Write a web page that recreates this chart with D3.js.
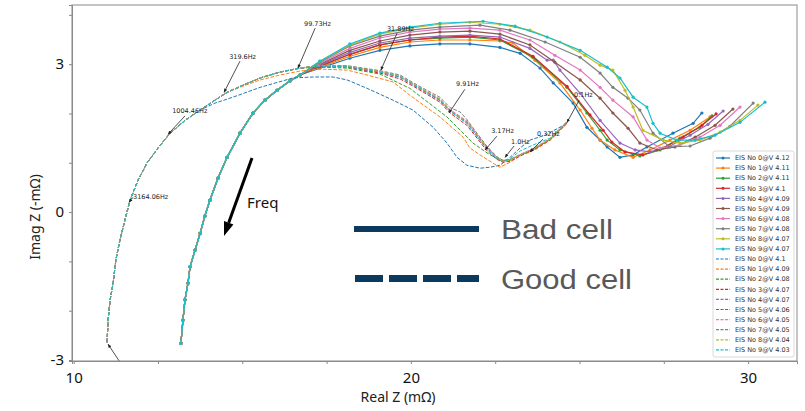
<!DOCTYPE html>
<html>
<head>
<meta charset="utf-8">
<script src="https://cdnjs.cloudflare.com/ajax/libs/d3/7.8.5/d3.min.js"></script>
<style>
body { margin: 0; background: #fff; }
#graphicContainer { width: 805px; height: 411px; }
</style>
</head>
<body>
<div id="graphicContainer"></div>
<script>

// axis setup

var x_domain = [9.95, 31.45];
var y_domain = [-3.02, 4.2];
var x_ticks = [10, 12.5, 15, 17.5, 20, 22.5, 25, 27.5, 30];
var x_labels = [10, 20, 30];
var y_ticks = [-3, -2, -1, 0, 1, 2, 3, 4];
var y_labels = [-3, 0, 3];

var colour_choices = ["#1f77b4", "#ff7f0e", "#2ca02c", "#d62728", "#9467bd",
	"#8c564b", "#e377c2", "#7f7f7f", "#bcbd22", "#17becf"];

var bad_labels = ["EIS No 0@V 4.12", "EIS No 1@V 4.11", "EIS No 2@V 4.11", "EIS No 3@V 4.1", "EIS No 4@V 4.09",
	"EIS No 5@V 4.09", "EIS No 6@V 4.08", "EIS No 7@V 4.08", "EIS No 8@V 4.07", "EIS No 9@V 4.07"];
var good_labels = ["EIS No 0@V 4.1", "EIS No 1@V 4.09", "EIS No 2@V 4.08", "EIS No 3@V 4.07", "EIS No 4@V 4.07",
	"EIS No 5@V 4.06", "EIS No 6@V 4.05", "EIS No 7@V 4.05", "EIS No 8@V 4.04", "EIS No 9@V 4.03"];

// bad cells - the high frequency part is the same for all of them

var bad_rise = [[13.18,-2.66],[13.24,-2.19],[13.30,-1.78],[13.39,-1.44],[13.45,-1.11],[13.60,-0.77],[13.75,-0.43],
	[13.89,-0.08],[14.04,0.24],[14.28,0.69],[14.55,1.11],[14.93,1.60],[15.32,2.01],[15.67,2.27],[16.03,2.47],[16.41,2.66],[16.71,2.78]];

var bad_0 = [[17.30,2.92],[18.19,3.12],[19.08,3.28],[19.97,3.37],[20.86,3.41],[21.75,3.41],[22.64,3.34],[23.24,3.22],[23.83,2.92],
	[24.22,2.62],[24.81,2.21],[25.22,1.72],[25.61,1.46],[25.82,1.32],[26.20,1.11],[26.59,1.16],[27.00,1.32],[27.77,1.60],[28.37,1.80],[28.63,2.01]];
var bad_1 = [[17.30,2.94],[18.19,3.16],[19.08,3.34],[19.97,3.45],[20.86,3.49],[21.75,3.49],[22.64,3.47],[23.03,3.43],[23.68,3.08],
	[24.42,2.62],[25.02,2.07],[25.37,1.70],[25.61,1.46],[26.05,1.26],[26.59,1.11],[27.09,1.26],[27.68,1.46],[28.28,1.66],[28.87,1.93]];
var bad_2 = [[17.30,2.96],[18.19,3.20],[19.08,3.39],[19.97,3.49],[20.86,3.53],[21.75,3.55],[22.64,3.49],[23.62,3.14],[24.63,2.53],
	[25.22,2.01],[25.61,1.66],[25.82,1.46],[26.20,1.26],[26.79,1.14],[27.39,1.26],[27.98,1.50],[28.57,1.72],[28.93,1.95]];
var bad_3 = [[17.30,2.96],[18.19,3.20],[19.08,3.39],[19.97,3.49],[20.86,3.55],[21.75,3.57],[22.64,3.51],[23.62,3.16],[24.63,2.55],
	[25.31,1.97],[25.70,1.66],[25.96,1.42],[26.35,1.22],[26.88,1.16],[27.48,1.30],[28.07,1.52],[28.63,1.76],[29.05,1.99]];
var bad_4 = [[17.30,2.98],[18.19,3.24],[19.08,3.43],[19.97,3.53],[20.86,3.57],[21.75,3.59],[22.64,3.55],[23.53,3.32],[24.04,3.08],
	[24.22,3.08],[24.42,2.88],[25.02,2.41],[25.61,1.86],[26.20,1.40],[26.65,1.26],[27.09,1.22],[27.63,1.32],[28.28,1.56],[28.81,1.78],[29.26,2.05]];
var bad_5 = [[17.30,3.00],[18.19,3.28],[19.08,3.47],[19.97,3.59],[20.86,3.65],[21.75,3.67],[22.64,3.61],[23.53,3.39],[24.27,3.04],
	[25.02,2.68],[25.61,2.31],[25.99,2.01],[26.44,1.70],[26.79,1.40],[27.30,1.26],[27.83,1.32],[28.43,1.52],[29.02,1.76],[29.55,2.09]];
var bad_6 = [[17.30,3.02],[18.19,3.32],[19.08,3.53],[19.97,3.65],[20.86,3.71],[21.75,3.73],[22.64,3.69],[23.53,3.49],[24.27,3.18],
	[25.02,2.88],[25.61,2.53],[25.99,2.27],[26.59,1.93],[27.00,1.46],[27.39,1.30],[27.98,1.36],[28.57,1.52],[29.17,1.76],[29.76,2.13]];
var bad_7 = [[17.30,3.04],[18.19,3.37],[19.08,3.57],[19.97,3.69],[20.86,3.75],[22.05,3.79],[22.94,3.69],[23.98,3.45],[25.02,3.14],
	[25.61,2.82],[25.99,2.53],[26.44,2.31],[26.79,2.07],[27.18,1.60],[27.68,1.32],[28.28,1.34],[28.87,1.50],[29.46,1.74],[30.15,2.21]];
var bad_8 = [[17.30,3.06],[18.19,3.39],[19.08,3.61],[19.97,3.73],[20.86,3.81],[21.75,3.85],[22.64,3.81],[23.53,3.69],[24.42,3.45],
	[25.16,3.18],[25.61,2.98],[25.99,2.88],[26.35,2.47],[26.59,2.13],[26.88,1.66],[27.48,1.46],[27.98,1.40],[28.57,1.46],[29.17,1.62],[29.76,1.86],[30.29,2.17]];
var bad_9 = [[17.30,3.06],[18.19,3.41],[19.08,3.63],[19.97,3.75],[20.86,3.83],[22.14,3.87],[23.09,3.77],[24.04,3.55],[25.02,3.28],
	[25.82,2.94],[26.20,2.72],[26.59,2.33],[27.00,2.13],[27.18,1.80],[27.39,1.60],[27.89,1.46],[28.43,1.46],[29.02,1.56],[29.76,1.82],[30.50,2.23]];

// good cells

var good_rise = [[10.99,-2.64],[11.02,-2.19],[11.08,-1.78],[11.17,-1.44],[11.25,-0.97],[11.37,-0.57],[11.52,-0.16],[11.67,0.24],
	[11.91,0.65],[12.17,0.99],[12.50,1.30],[12.86,1.60],[13.30,1.86],[13.75,2.07]];
var good_mid = [[14.19,2.27],[14.55,2.43],[15.08,2.59],[15.53,2.72],[16.12,2.84],[16.71,2.92]];

var good_0 = [[14.19,2.21],[14.72,2.33],[15.53,2.53],[16.50,2.72],[17.10,2.74],[17.69,2.74],[18.11,2.68],[18.70,2.51],[19.47,2.27],
	[20.06,2.07],[20.66,1.72],[21.07,1.40],[21.37,1.11],[21.66,0.95],[22.05,0.89],[22.35,0.91],[22.64,0.95],[22.94,1.11],[23.24,1.30],
	[23.53,1.46],[23.98,1.56],[24.63,1.80]];
var good_1 = [[14.19,2.27],[14.55,2.43],[15.08,2.57],[15.53,2.68],[16.12,2.78],[16.71,2.86],[17.30,2.90],[18.11,2.88],[18.70,2.78],
	[19.47,2.64],[19.97,2.37],[20.86,1.93],[21.55,1.52],[21.75,1.30],[22.05,1.16],[22.44,0.99],[22.64,0.91],[22.94,1.01],[23.24,1.14],
	[23.68,1.26],[24.13,1.46],[24.63,1.80]];
var good_2 = [[17.30,2.94],[18.11,2.92],[19.08,2.80],[19.97,2.51],[21.07,1.93],[21.84,1.40],[22.26,1.20],[22.64,1.05],[22.94,1.05],
	[23.24,1.16],[23.68,1.28],[24.13,1.48],[24.63,1.82]];
var good_3 = [[17.30,2.96],[18.11,2.94],[19.08,2.82],[19.68,2.70],[20.18,2.51],[20.86,2.23],[21.16,2.01],[21.66,1.76],[21.96,1.50],
	[22.26,1.24],[22.55,1.07],[22.73,1.01],[22.94,1.03],[23.24,1.14],[23.62,1.26],[24.13,1.46],[24.63,1.80]];
var good_4 = [[17.30,2.96],[18.11,2.95],[19.08,2.84],[19.68,2.73],[20.18,2.53],[20.86,2.26],[21.16,2.04],[21.66,1.81],[21.96,1.54],
	[22.26,1.28],[22.55,1.09],[22.73,1.03],[22.94,1.05],[23.24,1.15],[23.62,1.27],[24.13,1.47],[24.63,1.81]];
var good_5 = [[17.30,2.97],[18.11,2.96],[19.08,2.85],[19.68,2.75],[20.18,2.55],[20.86,2.28],[21.16,2.06],[21.66,1.83],[21.96,1.56],
	[22.26,1.30],[22.55,1.11],[22.73,1.04],[22.94,1.06],[23.24,1.16],[23.62,1.28],[24.13,1.48],[24.63,1.82]];
var good_6 = [[17.30,2.97],[18.11,2.96],[19.08,2.86],[19.68,2.76],[20.18,2.56],[20.86,2.30],[21.16,2.08],[21.66,1.85],[21.96,1.58],
	[22.26,1.32],[22.55,1.12],[22.73,1.05],[22.94,1.07],[23.24,1.17],[23.62,1.29],[24.13,1.49],[24.63,1.83]];
var good_7 = [[17.30,2.98],[18.11,2.97],[19.08,2.87],[19.68,2.78],[20.18,2.58],[20.86,2.33],[21.16,2.12],[21.46,2.03],[21.66,1.88],
	[21.96,1.60],[22.26,1.33],[22.55,1.12],[22.73,1.05],[22.94,1.06],[23.24,1.16],[23.62,1.28],[24.13,1.48],[24.63,1.83]];
var good_8 = [[17.30,2.97],[18.11,2.96],[19.08,2.85],[19.68,2.76],[20.18,2.55],[20.86,2.29],[21.16,2.06],[21.66,1.82],[21.96,1.55],
	[22.26,1.29],[22.55,1.10],[22.73,1.03],[22.94,1.05],[23.24,1.16],[23.62,1.28],[24.13,1.48],[24.63,1.82]];
var good_9 = [[17.30,2.96],[18.11,2.95],[19.08,2.84],[19.68,2.74],[20.18,2.54],[20.86,2.27],[21.16,2.05],[21.66,1.80],[21.96,1.53],
	[22.26,1.27],[22.55,1.09],[22.73,1.02],[22.94,1.08],[23.24,1.24],[23.62,1.36],[24.13,1.50],[24.63,1.84]];

// frequency labels: text spot, arrow start, arrow tip (data units)

var freq_labels = [
	{label: "3164.06Hz", tx: 11.76, ty: 0.26, sx: 11.76, sy: 0.30, ax: 11.64, ay: 0.20},
	{label: "1004.46Hz", tx: 12.92, ty: 2.01, sx: 13.30, sy: 1.95, ax: 12.80, ay: 1.58},
	{label: "319.6Hz", tx: 14.61, ty: 3.10, sx: 14.93, sy: 3.06, ax: 14.46, ay: 2.43},
	{label: "99.73Hz", tx: 16.83, ty: 3.77, sx: 17.16, sy: 3.73, ax: 16.65, ay: 2.92},
	{label: "31.89Hz", tx: 19.29, ty: 3.67, sx: 19.59, sy: 3.63, ax: 19.11, ay: 2.88},
	{label: "9.91Hz", tx: 21.34, ty: 2.55, sx: 21.60, sy: 2.49, ax: 21.13, ay: 2.01},
	{label: "3.17Hz", tx: 22.38, ty: 1.60, sx: 22.55, sy: 1.54, ax: 22.20, ay: 1.26},
	{label: "1.0Hz", tx: 22.97, ty: 1.38, sx: 23.06, sy: 1.34, ax: 22.79, ay: 1.11},
	{label: "0.32Hz", tx: 23.74, ty: 1.54, sx: 23.92, sy: 1.48, ax: 23.53, ay: 1.22},
	{label: "0.1Hz", tx: 24.84, ty: 2.33, sx: 24.99, sy: 2.27, ax: 24.63, ay: 1.82},
	{label: "", tx: 11.37, ty: -3.04, sx: 11.37, sy: -3.04, ax: 11.02, ay: -2.68}
];

function draw_chart() {

		var bad_series = [bad_0, bad_1, bad_2, bad_3, bad_4, bad_5, bad_6, bad_7, bad_8, bad_9]
			.map(t => bad_rise.concat(t));

		var good_series = [good_0, good_1].map(t => good_rise.concat(t))
			.concat([good_2, good_3, good_4, good_5, good_6, good_7, good_8, good_9]
				.map(t => good_rise.concat(good_mid, t)));

		var width = 805, height = 411;
		var margin = {top: 5, right: 8, bottom: 50, left: 72};

		d3.select("#graphicContainer svg").remove();

		var svg = d3.select("#graphicContainer").append("svg")
			.attr("width", width)
			.attr("height", height)
			.style("font-family", "'DejaVu Sans', sans-serif");

		var x = d3.scaleLinear()
			.domain(x_domain)
			.range([margin.left, width - margin.right]);

		var y = d3.scaleLinear()
			.domain(y_domain)
			.range([height - margin.bottom, margin.top]);

		svg.append("defs").append("clipPath")
			.attr("id", "plotClip")
			.append("rect")
			.attr("x", margin.left)
			.attr("y", margin.top)
			.attr("width", width - margin.left - margin.right)
			.attr("height", height - margin.top - margin.bottom);

		svg.select("defs").append("marker")
			.attr("id", "tip")
			.attr("viewBox", "0 0 10 10")
			.attr("refX", 9)
			.attr("refY", 5)
			.attr("markerWidth", 5)
			.attr("markerHeight", 5)
			.attr("orient", "auto")
			.append("path")
			.attr("d", "M0,1 L10,5 L0,9 z")
			.attr("fill", "#222");

		var line = d3.line()
			.x(d => x(d[0]))
			.y(d => y(d[1]));

		var plot = svg.append("g").attr("clip-path", "url(#plotClip)");

		// bad cells: solid with dots

		bad_series.forEach(function(s, i) {
			plot.append("path")
				.datum(s)
				.attr("d", line)
				.attr("fill", "none")
				.attr("stroke", colour_choices[i])
				.attr("stroke-width", 1.2);

			plot.append("g")
				.selectAll("circle")
				.data(s)
				.enter()
				.append("circle")
				.attr("cx", d => x(d[0]))
				.attr("cy", d => y(d[1]))
				.attr("r", 1.6)
				.attr("fill", colour_choices[i]);
		});

		// good cells: dashed

		good_series.forEach(function(s, i) {
			plot.append("path")
				.datum(s)
				.attr("d", line)
				.attr("fill", "none")
				.attr("stroke", colour_choices[i])
				.attr("stroke-width", 1)
				.attr("stroke-dasharray", "3.7,1.6");
		});

		// frequency annotations

		var ann = svg.append("g");

		ann.selectAll("line")
			.data(freq_labels)
			.enter()
			.append("line")
			.attr("x1", d => x(d.sx))
			.attr("y1", d => y(d.sy))
			.attr("x2", d => x(d.ax))
			.attr("y2", d => y(d.ay))
			.attr("stroke", "#222")
			.attr("stroke-width", 0.8)
			.attr("marker-end", "url(#tip)");

		ann.selectAll("text")
			.data(freq_labels)
			.enter()
			.append("text")
			.attr("x", d => x(d.tx))
			.attr("y", d => y(d.ty))
			.attr("font-size", 6.5)
			.attr("fill", "#222")
			.text(d => d.label);

		// frame

		svg.append("rect")
			.attr("x", margin.left)
			.attr("y", margin.top)
			.attr("width", width - margin.left - margin.right)
			.attr("height", height - margin.top - margin.bottom)
			.attr("fill", "none")
			.attr("stroke", "#8a8a8a")
			.attr("stroke-width", 1);

		// axes

		var xAxis = g => g
			.attr("transform", `translate(0,${height - margin.bottom})`)
			.call(d3.axisBottom(x).tickValues(x_ticks).tickSize(3).tickPadding(8)
				.tickFormat(d => x_labels.includes(d) ? d : ""))
			.call(g => g.select(".domain").attr("stroke", "#8a8a8a"))
			.call(g => g.selectAll(".tick line").attr("stroke", "#8a8a8a"))
			.call(g => g.selectAll(".tick text")
				.attr("font-family", "'Noto Sans', sans-serif")
				.attr("font-size", 15)
				.attr("fill", "#111"));

		var yAxis = g => g
			.attr("transform", `translate(${margin.left},0)`)
			.call(d3.axisLeft(y).tickValues(y_ticks).tickSize(3).tickPadding(5)
				.tickFormat(d => y_labels.includes(d) ? d : ""))
			.call(g => g.select(".domain").attr("stroke", "#8a8a8a"))
			.call(g => g.selectAll(".tick line").attr("stroke", "#8a8a8a"))
			.call(g => g.selectAll(".tick text")
				.attr("font-family", "'Noto Sans', sans-serif")
				.attr("font-size", 15)
				.attr("fill", "#111"));

		svg.append("g").call(xAxis);
		svg.append("g").call(yAxis);

		svg.append("text")
			.attr("x", 398)
			.attr("y", 402)
			.attr("text-anchor", "middle")
			.attr("font-family", "'Noto Sans', sans-serif")
			.attr("font-size", 14)
			.attr("fill", "#222")
			.text("Real Z (m\u03a9)");

		svg.append("text")
			.attr("transform", "translate(40,217) rotate(-90)")
			.attr("text-anchor", "middle")
			.attr("font-family", "'Noto Sans', sans-serif")
			.attr("font-size", 14)
			.attr("fill", "#222")
			.text("Imag Z (-m\u03a9)");

		// freq arrow

		svg.append("line")
			.attr("x1", 252).attr("y1", 158)
			.attr("x2", 228.7).attr("y2", 222.8)
			.attr("stroke", "#000")
			.attr("stroke-width", 3);

		svg.append("path")
			.attr("d", "M224,236 L233.4,224.5 L224,221.1 Z")
			.attr("fill", "#000");

		svg.append("text")
			.attr("x", 247)
			.attr("y", 208)
			.attr("font-family", "'Noto Sans', sans-serif")
			.attr("font-size", 15)
			.attr("fill", "#111")
			.text("Freq");

		// bad / good key

		var key = svg.append("g");

		key.append("line")
			.attr("x1", 354).attr("x2", 479)
			.attr("y1", 229).attr("y2", 229)
			.attr("stroke", "#0b3a5e")
			.attr("stroke-width", 6);

		key.append("line")
			.attr("x1", 355).attr("x2", 479)
			.attr("y1", 278.5).attr("y2", 278.5)
			.attr("stroke", "#0b3a5e")
			.attr("stroke-width", 7)
			.attr("stroke-dasharray", "28,6");

		key.append("text")
			.attr("x", 501).attr("y", 239)
			.attr("font-family", "'Liberation Sans', Arial, sans-serif")
			.attr("font-size", 27)
			.attr("textLength", 112)
			.attr("lengthAdjust", "spacingAndGlyphs")
			.attr("fill", "#595959")
			.text("Bad cell");

		key.append("text")
			.attr("x", 501).attr("y", 289)
			.attr("font-family", "'Liberation Sans', Arial, sans-serif")
			.attr("font-size", 27)
			.attr("textLength", 131)
			.attr("lengthAdjust", "spacingAndGlyphs")
			.attr("fill", "#595959")
			.text("Good cell");

		// series legend

		var legend = svg.append("g")
			.attr("transform", "translate(713,151)");

		legend.append("rect")
			.attr("width", 81)
			.attr("height", 206)
			.attr("rx", 2)
			.attr("fill", "#fff")
			.attr("fill-opacity", 0.8)
			.attr("stroke", "#d0d0d0")
			.attr("stroke-width", 0.8);

		var entries = bad_labels.map((l, i) => ({label: l, colour: colour_choices[i], dashed: false}))
			.concat(good_labels.map((l, i) => ({label: l, colour: colour_choices[i], dashed: true})));

		var item = legend.selectAll("g")
			.data(entries)
			.enter()
			.append("g")
			.attr("transform", (d, i) => `translate(0,${7 + i * 10.1})`);

		item.append("line")
			.attr("x1", 3).attr("x2", 17)
			.attr("stroke", d => d.colour)
			.attr("stroke-width", 1.2)
			.attr("stroke-dasharray", d => d.dashed ? "3,1.5" : null);

		item.filter(d => !d.dashed)
			.append("circle")
			.attr("cx", 10)
			.attr("r", 1.5)
			.attr("fill", d => d.colour);

		item.append("text")
			.attr("x", 22)
			.attr("dy", "0.35em")
			.attr("font-size", 6.5)
			.attr("fill", "#333")
			.text(d => d.label);

}

draw_chart();

</script>
</body>
</html>
